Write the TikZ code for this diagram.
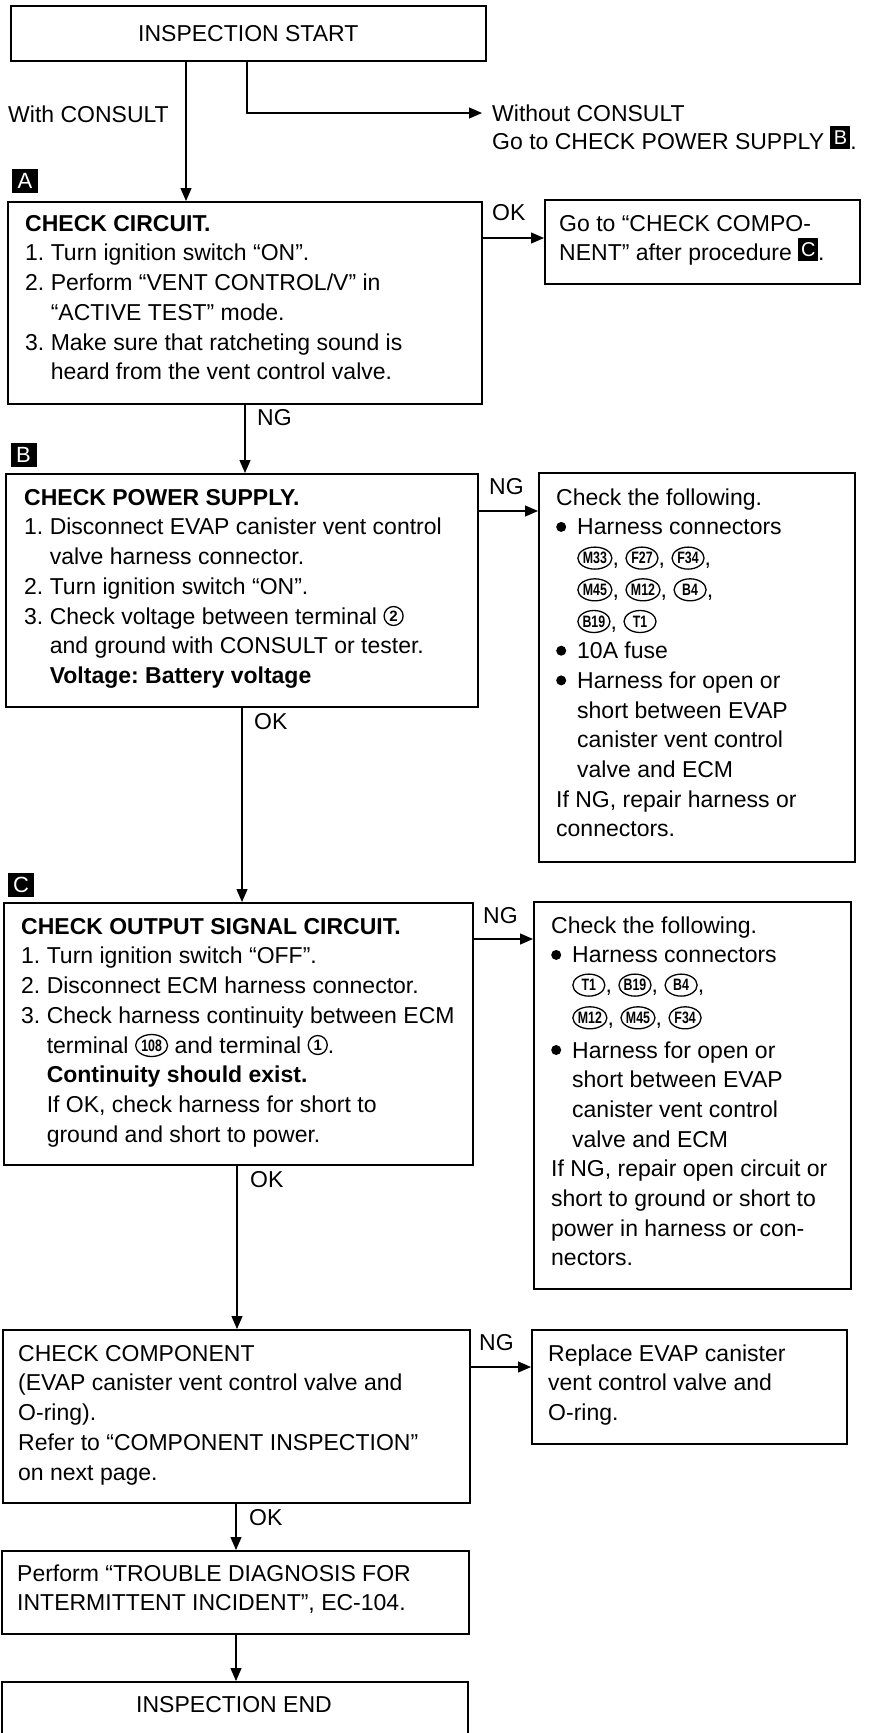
\documentclass[tikz,border=0pt]{standalone}
\usepackage{fontspec}
\setmainfont{Liberation Sans}
\newfontfamily\connfont[FakeStretch=0.75]{Liberation Sans}
\usetikzlibrary{arrows.meta,shapes.geometric,calc}
\frenchspacing

\newcommand\conn[1]{\tikz[x=1pt,y=1pt,baseline={([yshift=-7.5pt]cn.center)}]\node[ellipse,draw,line width=1.3pt,inner sep=0pt,minimum width=32pt,minimum height=22pt,font={\fontsize{16.5}{16.5}\connfont\bfseries}] (cn) {#1};}
\newcommand\circnum[1]{\tikz[x=1pt,y=1pt,baseline={([yshift=-8pt]cn.center)}]\node[circle,draw,line width=1.3pt,inner sep=0pt,minimum size=19pt,font={\fontsize{15}{15}\selectfont\bfseries}] (cn) {#1};}
\newcommand\blkbox[1]{\tikz[x=1pt,y=1pt,baseline=-2pt]\node[fill=black,text=white,inner sep=0pt,minimum width=20pt,minimum height=23pt,anchor=south west,font={\fontsize{20}{20}\selectfont}] (bb) at (0,-2) {#1};}
\newcommand\blt{\makebox[21pt][l]{\tikz[x=1pt,y=1pt,baseline=-8pt]\fill (5,0) circle (5pt);}}
\newcommand\ind{\hspace*{21pt}}

\tikzset{
  box/.style={draw, line width=1.6pt, inner sep=0pt, anchor=north west},
  txt/.style={anchor=north west, inner sep=0pt, align=left, font={\fontsize{23}{29.7}\selectfont}},
  lab/.style={anchor=west, inner sep=0pt, font={\fontsize{23}{29.7}\selectfont}},
  arr/.style={line width=1.3pt, -{Triangle[length=13pt,width=11pt]}},
  lbl/.style={fill=black, text=white, inner sep=0pt, minimum width=26pt, minimum height=24pt, font={\fontsize{22}{22}\selectfont}}
}

\begin{document}
\begin{tikzpicture}[x=1pt,y=-1pt]
\useasboundingbox (0,0) rectangle (881,1733);
\clip (0,0) rectangle (881,1733);

% boxes
\node[box, minimum width=475pt, minimum height=55pt, font={\fontsize{23}{29.7}\selectfont}] (S) at (10,5) {INSPECTION START};
\node[box, minimum width=474pt, minimum height=202pt] (A) at (7,201) {};
\node[box, minimum width=315pt, minimum height=84pt] (A2) at (544,199) {};
\node[box, minimum width=472pt, minimum height=233pt] (B) at (5,473) {};
\node[box, minimum width=316pt, minimum height=389pt] (NG1) at (538,472) {};
\node[box, minimum width=469pt, minimum height=262pt] (C) at (3,902) {};
\node[box, minimum width=317pt, minimum height=387pt] (NG2) at (533,901) {};
\node[box, minimum width=467pt, minimum height=173pt] (D) at (2,1329) {};
\node[box, minimum width=315pt, minimum height=114pt] (E) at (531,1329) {};
\node[box, minimum width=467pt, minimum height=83pt] (F) at (1,1550) {};
\node[box, minimum width=466pt, minimum height=100pt] (End) at (1,1681) {};

% step labels
\node[lbl] (LA) at (25,181) {A};
\node[lbl] (LB) at (23.5,455) {B};
\node[lbl] (LC) at (21,884.5) {C};

% texts
\node[lab] (WC) at (8,114) {With CONSULT};
\node[txt, font={\fontsize{23}{28}\selectfont}] (WOt) at (492,104) {\rule{0pt}{17pt}Without CONSULT\\Go to CHECK POWER SUPPLY \blkbox{B}.};

\node[txt] (At) at (25,214) {\rule{0pt}{17pt}\textbf{CHECK CIRCUIT.}\\
1. Turn ignition switch “ON”.\\
2. Perform “VENT CONTROL/V” in\\
\hphantom{2. }“ACTIVE TEST” mode.\\
3. Make sure that ratcheting sound is\\
\hphantom{3. }heard from the vent control valve.};

\node[txt] (A2t) at (559,214) {\rule{0pt}{17pt}Go to “CHECK COMPO-\\NENT” after procedure \blkbox{C}.};

\node[txt] (Bt) at (24,488) {\rule{0pt}{17pt}\textbf{CHECK POWER SUPPLY.}\\
1. Disconnect EVAP canister vent control\\
\hphantom{1. }valve harness connector.\\
2. Turn ignition switch “ON”.\\
3. Check voltage between terminal \circnum{2}\\
\hphantom{3. }and ground with CONSULT or tester.\\
\hphantom{3. }\textbf{Voltage: Battery voltage}};

\node[txt] (NG1t) at (556,488) {\rule{0pt}{17pt}Check the following.\\
\blt Harness connectors\\[1pt]
\ind\conn{M33}, \conn{F27}, \conn{F34},\\[2pt]
\ind\conn{M45}, \conn{M12}, \conn{B4},\\[2pt]
\ind\conn{B19}, \conn{T1}\\
\blt 10A fuse\\
\blt Harness for open or\\
\ind short between EVAP\\
\ind canister vent control\\
\ind valve and ECM\\
If NG, repair harness or\\
connectors.};

\node[txt] (Ct) at (21,917) {\rule{0pt}{17pt}\textbf{CHECK OUTPUT SIGNAL CIRCUIT.}\\
1. Turn ignition switch “OFF”.\\
2. Disconnect ECM harness connector.\\
3. Check harness continuity between ECM\\
\hphantom{3. }terminal \conn{108} and terminal \circnum{1}.\\
\hphantom{3. }\textbf{Continuity should exist.}\\
\hphantom{3. }If OK, check harness for short to\\
\hphantom{3. }ground and short to power.};

\node[txt] (NG2t) at (551,916) {\rule{0pt}{17pt}Check the following.\\
\blt Harness connectors\\
\ind\conn{T1}, \conn{B19}, \conn{B4},\\[3pt]
\ind\conn{M12}, \conn{M45}, \conn{F34}\\[3pt]
\blt Harness for open or\\
\ind short between EVAP\\
\ind canister vent control\\
\ind valve and ECM\\
If NG, repair open circuit or\\
short to ground or short to\\
power in harness or con-\\
nectors.};

\node[txt] (Dt) at (18,1344) {\rule{0pt}{17pt}CHECK COMPONENT\\
(EVAP canister vent control valve and\\
O-ring).\\
Refer to “COMPONENT INSPECTION”\\
on next page.};

\node[txt] (Et) at (548,1344) {\rule{0pt}{17pt}Replace EVAP canister\\
vent control valve and\\
O-ring.};

\node[txt] (Ft) at (17,1564) {\rule{0pt}{17pt}Perform “TROUBLE DIAGNOSIS FOR\\
INTERMITTENT INCIDENT”, EC-104.};

\node[lab, anchor=center] (Endt) at (234,1705) {INSPECTION END};

% connector labels
\node[lab] (okA) at (492,213) {OK};
\node[lab] (ngA) at (257,418) {NG};
\node[lab] (ngB) at (489,487) {NG};
\node[lab] (okB) at (254,722) {OK};
\node[lab] (ngC) at (483,916) {NG};
\node[lab] (okC) at (250,1180) {OK};
\node[lab] (ngD) at (479,1343) {NG};
\node[lab] (okD) at (249,1518) {OK};

% connector helper coordinates
\coordinate (x1) at (186,0);
\coordinate (x2) at (247,0);
\coordinate (wo) at (482,113);
\coordinate (y1) at (0,238);
\coordinate (x3) at (245,0);
\coordinate (y2) at (0,511);
\coordinate (x4) at (242,0);
\coordinate (y3) at (0,939);
\coordinate (x5) at (237,0);
\coordinate (y4) at (0,1367);
\coordinate (x6) at (236,0);

% connectors
\draw[arr] (S.south -| x1) -- (A.north -| x1);
\draw[arr] (S.south -| x2) |- (wo);
\draw[arr] (A.east |- y1) -- (A2.west |- y1);
\draw[arr] (A.south -| x3) -- (B.north -| x3);
\draw[arr] (B.east |- y2) -- (NG1.west |- y2);
\draw[arr] (B.south -| x4) -- (C.north -| x4);
\draw[arr] (C.east |- y3) -- (NG2.west |- y3);
\draw[arr] (C.south -| x5) -- (D.north -| x5);
\draw[arr] (D.east |- y4) -- (E.west |- y4);
\draw[arr] (D.south -| x6) -- (F.north -| x6);
\draw[arr] (F.south -| x6) -- (End.north -| x6);
\end{tikzpicture}
\end{document}
